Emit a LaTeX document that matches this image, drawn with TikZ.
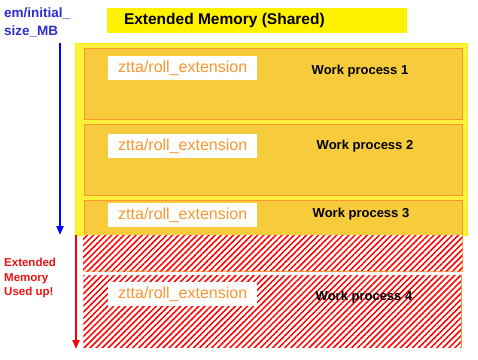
\documentclass[tikz,border=0pt]{standalone}
\usepackage{fontspec}
\setmainfont{Liberation Sans}
\usepackage{tikz}
\usetikzlibrary{arrows.meta, positioning, patterns.meta}
\definecolor{sharedfill}{HTML}{FFF03A}
\definecolor{wpfill}{HTML}{F6CC3C}
\definecolor{wpedge}{HTML}{FA9630}
\definecolor{memblue}{HTML}{2D2DD0}
\definecolor{usedred}{HTML}{EE1111}
\tikzset{
  titlebox/.style={fill=yellow, minimum width=300pt, minimum height=25pt, inner sep=0pt},
  sharedbox/.style={fill=sharedfill, draw=yellow, line width=1pt, anchor=north west, inner sep=0pt},
  wpbox/.style={fill=wpfill, draw=wpedge, line width=0.8pt, anchor=north west, minimum width=378pt, inner sep=0pt},
  hatched/.style={pattern={Lines[angle=45, distance=4.3pt, line width=1.5pt]}, pattern color=red},
  paramlabel/.style={fill=white, text=wpedge, anchor=north west, minimum width=149pt, minimum height=24pt, inner sep=0pt, font=\fontsize{16}{18}\selectfont},
  wplabel/.style={font=\bfseries\fontsize{13}{15}\selectfont},
}

\begin{document}
\begin{tikzpicture}[x=1pt, y=-1pt, >={Triangle[length=9pt, width=7pt]}]
    \fill[white] (0,0) rectangle (478,359);
    \useasboundingbox (0,0) rectangle (478,359);

    % heading
    \node[titlebox] (title) at (257,20.5) {};
    \node[right=17pt of title.west, inner sep=0pt, font=\bfseries\fontsize{15.5}{17}\selectfont] (titletext) {Extended Memory (Shared)};

    % shared memory and work processes
    \node[sharedbox, minimum width=392pt, minimum height=192pt] (shared) at (75,43) {};
    \node[wpbox, minimum height=71pt] (wp1) at (84,48) {};
    \node[wpbox, minimum height=71pt] (wp2) at (84,124) {};
    \node[wpbox, minimum height=71pt] (wp3) at (84,200) {};
    \fill[white] (83,235) rectangle (wp3.south east);
    \fill[hatched] (83,235) rectangle (wp3.south east);
    \draw[wpedge, line width=0.8pt] (wp3.north east |- shared.south) -- (wp3.south east) -- (83,271);
    \node[wpbox, fill=none, draw=none, hatched, minimum height=72pt] (wp4) at (83,275) {};
    \draw[wpedge, line width=0.8pt] (wp4.north east) -- (wp4.south east);

    \node[paramlabel] (roll1) at (108,56) {ztta/roll\_extension};
    \node[paramlabel] (roll2) at (108,134) {ztta/roll\_extension};
    \node[paramlabel] (roll3) at (108,203) {ztta/roll\_extension};
    \node[paramlabel] (roll4) at (108,282) {ztta/roll\_extension};

    \node[wplabel] (wpname1) at (360,71) {Work process 1};
    \node[wplabel] (wpname2) at (365,146) {Work process 2};
    \node[wplabel] (wpname3) at (361,214) {Work process 3};
    \node[wplabel] (wpname4) at (364,297) {Work process 4};

    % sizes
    \node[anchor=north west, align=left, inner sep=0pt, text=memblue, font=\bfseries\fontsize{13.5}{18}\selectfont] (initsize) at (4,8) {em/initial\_\\size\_MB};
    \node[anchor=north west, align=left, inner sep=0pt, text=usedred, font=\bfseries\fontsize{11.5}{14.5}\selectfont] (usedup) at (4,258) {Extended\\Memory\\Used up!};

    \coordinate (initstart) at (60,43);
    \coordinate (initend) at (60,235);
    \coordinate (usedstart) at (76,235);
    \coordinate (usedend) at (76,349);
    \draw[->, blue, line width=2pt] (initstart) -- (initend);
    \draw[->, red, line width=2pt] (usedstart) -- (usedend);
  \end{tikzpicture}
\end{document}
